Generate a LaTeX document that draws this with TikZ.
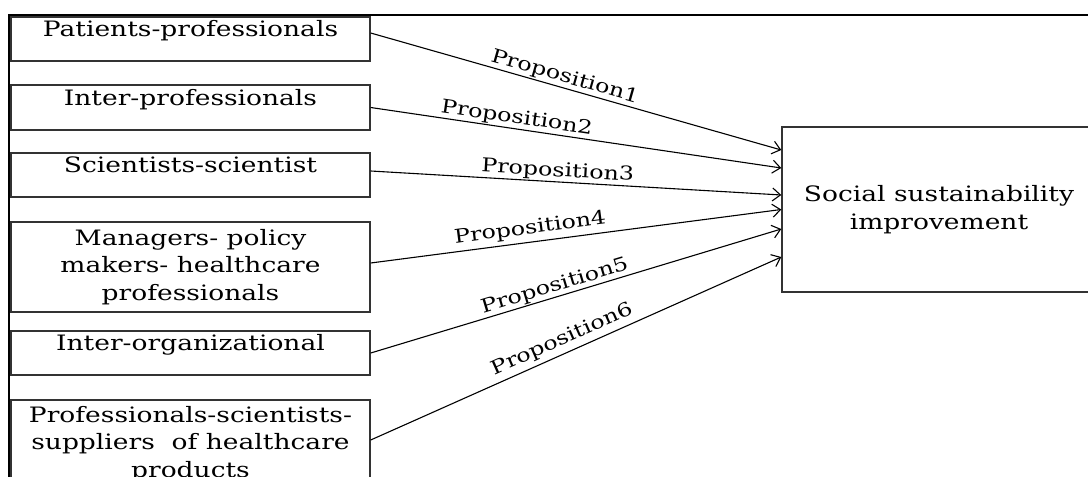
\documentclass[tikz,border=0pt]{standalone}
\usepackage{fontspec}
\setmainfont{DejaVu Serif}[FakeStretch=1.25]
\usetikzlibrary{arrows.meta}
\definecolor{boxline}{HTML}{333333}
\begin{document}
\begin{tikzpicture}[x=1pt,y=-1pt,
  box/.style={draw=boxline, line width=1.4pt, minimum width=359pt, inner sep=0pt, align=center, font=\fontsize{21.2}{27.5}\selectfont},
  oneline/.style={text height=15pt, text depth=20pt},
  conn/.style={draw=black, line width=1.1pt, -{Straight Barb[length=8pt,width=13pt]}},
  prop/.style={sloped, above, inner sep=1pt, font=\fontsize{19}{21}\selectfont}]
\useasboundingbox (0,0) rectangle (1088,477);
\clip (0,0) rectangle (1088,477);
% outer frame
\draw[line width=2pt] (8.5,490) -- (8.5,15.3) -- (1100,15.3);
% source boxes
\node[box, oneline, minimum height=44pt] (b1) at (190.5,39) {Patients-professionals};
\node[box, oneline, minimum height=45pt] (b2) at (190.5,107.5) {Inter-professionals};
\node[box, oneline, minimum height=44pt] (b3) at (190.5,175) {Scientists-scientist};
\node[box, minimum height=90pt] (b4) at (190.5,267) {Managers- policy\\makers- healthcare\\professionals};
\node[box, oneline, minimum height=44pt] (b5) at (190.5,353) {Inter-organizational};
\node[box, minimum height=88pt] (b6) at (190.5,444) {Professionals-scientists-\\suppliers\ \ of healthcare\\products};
% target box
\node[box, minimum width=314pt, minimum height=165pt] (goal) at (939,209.5) {Social sustainability\\improvement};
% connectors
\draw[conn] ([yshift=6pt]b1.east) -- node[prop, pos=0.466] {Proposition1} ([yshift=59.5pt]goal.west);
\draw[conn] (b2.east) -- node[prop, pos=0.352] {Proposition2} ([yshift=41.5pt]goal.west);
\draw[conn] ([yshift=4pt]b3.east) -- node[prop, pos=0.454] {Proposition3} ([yshift=14.5pt]goal.west);
\draw[conn] ([yshift=4pt]b4.east) -- node[prop, pos=0.393, inner sep=4pt] {Proposition4} (goal.west);
\draw[conn] (b5.east) -- node[prop, pos=0.456] {Proposition5} ([yshift=-19.5pt]goal.west);
\draw[conn] ([yshift=4pt]b6.east) -- node[prop, pos=0.48, inner sep=4pt] {Proposition6} ([yshift=-47.5pt]goal.west);
\end{tikzpicture}
\end{document}
